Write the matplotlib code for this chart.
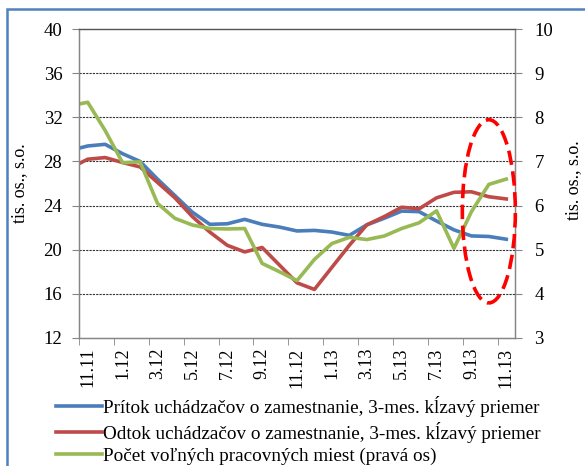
import numpy as np
import matplotlib
matplotlib.use("Agg")
from matplotlib import pyplot as plt
from matplotlib.patches import Ellipse, Rectangle

plt.rcParams['font.family'] = ['Liberation Serif', 'DejaVu Serif']

# months 10.11 .. 11.13 (first point lies just outside the axis start)
months = ["10.11", "11.11", "12.11", "1.12", "2.12", "3.12", "4.12", "5.12", "6.12",
          "7.12", "8.12", "9.12", "10.12", "11.12", "12.12", "1.13", "2.13", "3.13",
          "4.13", "5.13", "6.13", "7.13", "8.13", "9.13", "10.13", "11.13"]
pritok = [29.0, 29.4, 29.55, 28.7, 28.0, 26.4, 24.9, 23.4, 22.3, 22.35, 22.75, 22.3, 22.05,
          21.7, 21.75, 21.6, 21.3, 22.25, 22.85, 23.5, 23.45, 22.6, 21.8, 21.25, 21.2, 20.95]
odtok = [27.4, 28.2, 28.35, 27.9, 27.5, 26.1, 24.7, 23.0, 21.6, 20.4, 19.8, 20.2, 18.6,
         17.0, 16.4, 18.4, 20.4, 22.25, 23.0, 23.85, 23.7, 24.7, 25.2, 25.25, 24.8, 24.6]
miesta = [8.26, 8.34, 7.7, 6.97, 6.99, 6.05, 5.71, 5.56, 5.48, 5.47, 5.48, 4.69, 4.5,
          4.3, 4.78, 5.14, 5.28, 5.23, 5.31, 5.48, 5.61, 5.88, 5.03, 5.86, 6.48, 6.60]

labels = ["Prítok uchádzačov o zamestnanie, 3-mes. kĺzavý priemer",
          "Odtok uchádzačov o zamestnanie, 3-mes. kĺzavý priemer",
          "Počet voľných pracovných miest (pravá os)"]
colors = ["#4A7EBB", "#BE4B48", "#98B954"]

x = np.arange(len(months)) - 1

fig = plt.figure(figsize=(5.85, 4.66), dpi=100)
ax = fig.add_axes([79/585, 1-338/466, 436/585, 309/466])
ax2 = ax.twinx()

l1, = ax.plot(x, pritok, color=colors[0], lw=2.6, solid_joinstyle="round")
l2, = ax.plot(x, odtok, color=colors[1], lw=2.6, solid_joinstyle="round")
l3, = ax2.plot(x, miesta, color=colors[2], lw=2.6, solid_joinstyle="round")

ax.set_xlim(-0.5, 24.5)
ax.set_ylim(12, 40)
ax2.set_ylim(3, 10)
ax.set_yticks(np.arange(12, 41, 4))
ax2.set_yticks(np.arange(3, 11, 1))

lab_pos = x[1::2]
ax.set_xticks(lab_pos)
ax.set_xticklabels(months[1::2], rotation=90)
ax.set_xticks(lab_pos - 0.5, minor=True)
ax.tick_params(axis="x", which="major", length=0, pad=7, labelsize=13)
ax.tick_params(axis="x", which="minor", length=5, color="#868686")
ax.tick_params(axis="y", length=5, color="#868686", pad=7, labelsize=13.5)
ax2.tick_params(axis="y", length=5, color="#868686", pad=9, labelsize=13.5)

for yv in range(16, 40, 4):
    ax.axhline(yv, color="#333333", lw=0.8, ls=(0, (2, 1)), zorder=0)

for a in (ax, ax2):
    for s in a.spines.values():
        s.set_color("#868686")
        s.set_linewidth(0.9)
ax2.spines["top"].set_color("#555555")

ax.set_ylabel("tis. os., s.o.", fontsize=13)
ax.yaxis.set_label_coords(-0.117, 0.5)
ax2.set_ylabel("tis. os., s.o.", fontsize=13)
ax2.yaxis.set_label_coords(1.115, 0.51)

ell = Ellipse((23, 5.87), 3.04, 4.15, fill=False, edgecolor="#FF0000", lw=2.6,
              ls=(0, (4, 1.8)), clip_on=False, zorder=5)
ax2.add_patch(ell)

fig.legend([l1, l2, l3], labels, loc="upper left", bbox_to_anchor=(56/585, 1-396/466),
           frameon=False, fontsize=13.8, handlelength=2.4, handletextpad=0.05,
           labelspacing=0.25, borderaxespad=0, borderpad=0)

fig.patches.append(Rectangle((7/585, -0.1), 1.2, 1.1 - 9/466, transform=fig.transFigure,
                             fill=False, edgecolor="#4F81BD", lw=1.8))

fig.savefig("out.png", dpi=100)
